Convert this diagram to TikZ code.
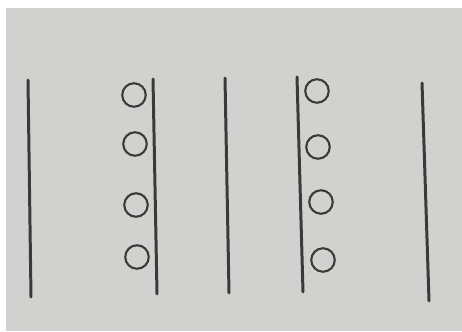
\documentclass[tikz,border=0pt]{standalone}
\usepackage{tikz}
\usetikzlibrary{backgrounds}
\definecolor{paper}{RGB}{209,209,207}
\definecolor{ink}{RGB}{58,58,58}

\begin{document}
\begin{tikzpicture}[
  x=0.02cm, y=-0.02cm,
  wall/.style={draw=ink, line width=1.7pt, line cap=round},
  ball/.style={circle, draw=ink, line width=1.2pt, inner sep=0pt,
               minimum size=0.47cm}
]
  %% -- Paper
  \useasboundingbox (0,0) rectangle (462,331);
  \begin{scope}[on background layer]
    \fill[white] (0,0) rectangle (462,331);
    \fill[paper] (6,8) rectangle (462,331);
  \end{scope}

  %% Line end points
  \coordinate (l1t) at (28,80);   \coordinate (l1b) at (31,297);
  \coordinate (l2t) at (153,79);  \coordinate (l2b) at (157,294);
  \coordinate (l3t) at (225,78);  \coordinate (l3b) at (229,293);
  \coordinate (l4t) at (297,77);  \coordinate (l4b) at (303,292);
  \coordinate (l5t) at (422,83);  \coordinate (l5b) at (429,301);

  %% Vertical lines
  \draw[wall] (l1t) -- (l1b);
  \draw[wall] (l2t) -- (l2b);
  \draw[wall] (l3t) -- (l3b);
  \draw[wall] (l4t) -- (l4b);
  \draw[wall] (l5t) -- (l5b);

  %% Circles left of line 2
  \node[ball] (a1) at (134,95)  {};
  \node[ball] (a2) at (135,144) {};
  \node[ball] (a3) at (136,205) {};
  \node[ball] (a4) at (137,257) {};

  %% Circles right of line 4
  \node[ball] (b1) at (317,91)  {};
  \node[ball] (b2) at (318,147) {};
  \node[ball] (b3) at (321,202) {};
  \node[ball] (b4) at (323,260) {};

\end{tikzpicture}
\end{document}
